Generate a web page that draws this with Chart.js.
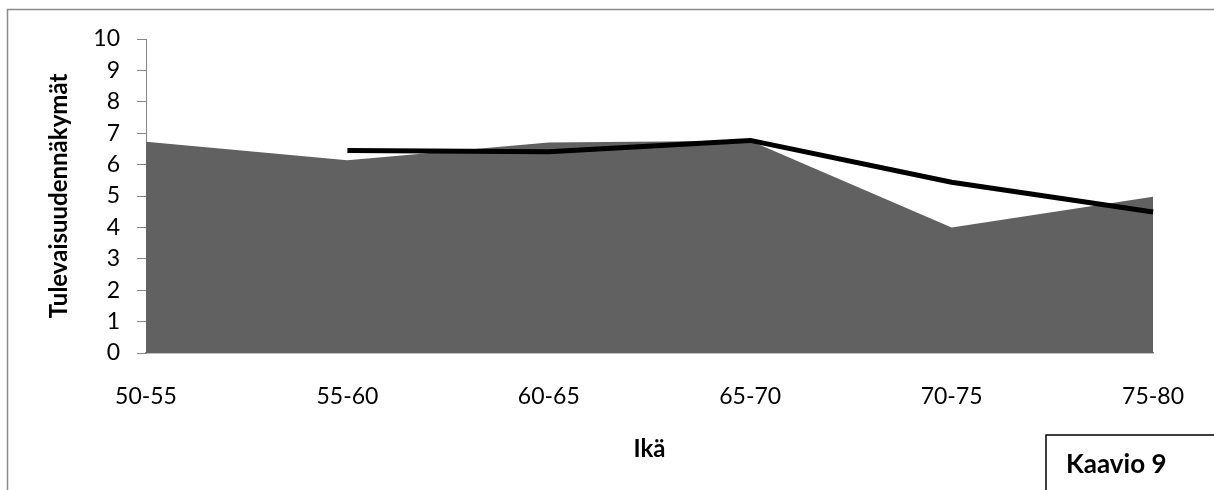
<!DOCTYPE html>
<html>
<head>
<meta charset="utf-8">
<script src="https://cdn.jsdelivr.net/npm/chart.js@4/dist/chart.umd.min.js"></script>
<style>
  html, body { margin: 0; padding: 0; background: #fff; }
  #wrap { position: relative; width: 1214px; height: 490px; }
</style>
</head>
<body>
<div id="wrap"><canvas id="c" width="1214" height="490"></canvas></div>
<script>
// Age groups on the x axis
const categories = ['50-55', '55-60', '60-65', '65-70', '70-75', '75-80'];
// Grey area series
const areaValues = [6.73, 6.14, 6.70, 6.76, 4.00, 4.98];
// Black line series (no value for the first age group)
const lineValues = [null, 6.45, 6.41, 6.77, 5.44, 4.49];
// Value axis range and labels
const yMin = 0;
const yMax = 10;
const yStep = 1;

const xTitle = 'Ikä';
const yTitle = 'Tulevaisuudennäkymät';
const boxLabel = 'Kaavio 9';

const FONT = 'Lato, "Open Sans", sans-serif';
const AXIS_GREY = '#868686';

// Outer frame and the caption box in the lower right corner
const framePlugin = {
  id: 'frame',
  afterDraw(chart) {
    const ctx = chart.ctx;
    const W = chart.width, H = chart.height;
    ctx.save();
    ctx.strokeStyle = '#8a8a8a';
    ctx.lineWidth = 1.5;
    ctx.beginPath();
    ctx.moveTo(7.5, H);
    ctx.lineTo(7.5, 9.5);
    ctx.lineTo(W, 9.5);
    ctx.stroke();

    ctx.strokeStyle = '#000';
    ctx.lineWidth = 1.5;
    ctx.beginPath();
    ctx.moveTo(1046, H);
    ctx.lineTo(1046, 435);
    ctx.lineTo(W, 435);
    ctx.stroke();

    ctx.fillStyle = '#000';
    ctx.font = 'bold 26px ' + FONT;
    ctx.textAlign = 'left';
    ctx.textBaseline = 'alphabetic';
    ctx.fillText(boxLabel, 1066, 473);
    ctx.restore();
  }
};

new Chart(document.getElementById('c'), {
  type: 'line',
  data: {
    labels: categories,
    datasets: [
      {
        data: lineValues,
        borderColor: '#000',
        borderWidth: 5,
        borderJoinStyle: 'round',
        pointRadius: 0,
        fill: false,
        tension: 0,
        order: 1
      },
      {
        data: areaValues,
        backgroundColor: '#616161',
        borderColor: '#616161',
        borderWidth: 0,
        pointRadius: 0,
        fill: 'origin',
        tension: 0,
        order: 2
      }
    ]
  },
  options: {
    responsive: false,
    animation: false,
    devicePixelRatio: 1,
    layout: { padding: { left: 0, top: 39, right: 58, bottom: 0 } },
    plugins: {
      legend: { display: false },
      tooltip: { enabled: false }
    },
    scales: {
      x: {
        offset: false,
        grid: { display: false, drawTicks: false },
        border: { display: true, color: AXIS_GREY, width: 1.5 },
        ticks: {
          color: '#000',
          padding: 30,
          maxRotation: 0,
          autoSkip: false,
          font: { family: FONT, size: 23 }
        },
        title: {
          display: true,
          text: xTitle,
          color: '#000',
          font: { family: FONT, size: 24, weight: 'bold' },
          padding: { top: 0, bottom: 26 }
        },
        afterFit(scale) { scale.height = 137; }
      },
      y: {
        min: yMin,
        max: yMax,
        grid: {
          display: true,
          drawOnChartArea: false,
          drawTicks: true,
          tickLength: 9,
          color: AXIS_GREY
        },
        border: { display: true, color: AXIS_GREY, width: 1 },
        ticks: {
          stepSize: yStep,
          color: '#000',
          padding: 17,
          font: { family: FONT, size: 23 }
        },
        title: {
          display: true,
          text: yTitle,
          color: '#000',
          font: { family: FONT, size: 24, weight: 'bold' },
          padding: { top: 45, bottom: 0 }
        },
        afterFit(scale) { scale.width = 146; }
      }
    }
  },
  plugins: [framePlugin]
});
</script>
</body>
</html>
